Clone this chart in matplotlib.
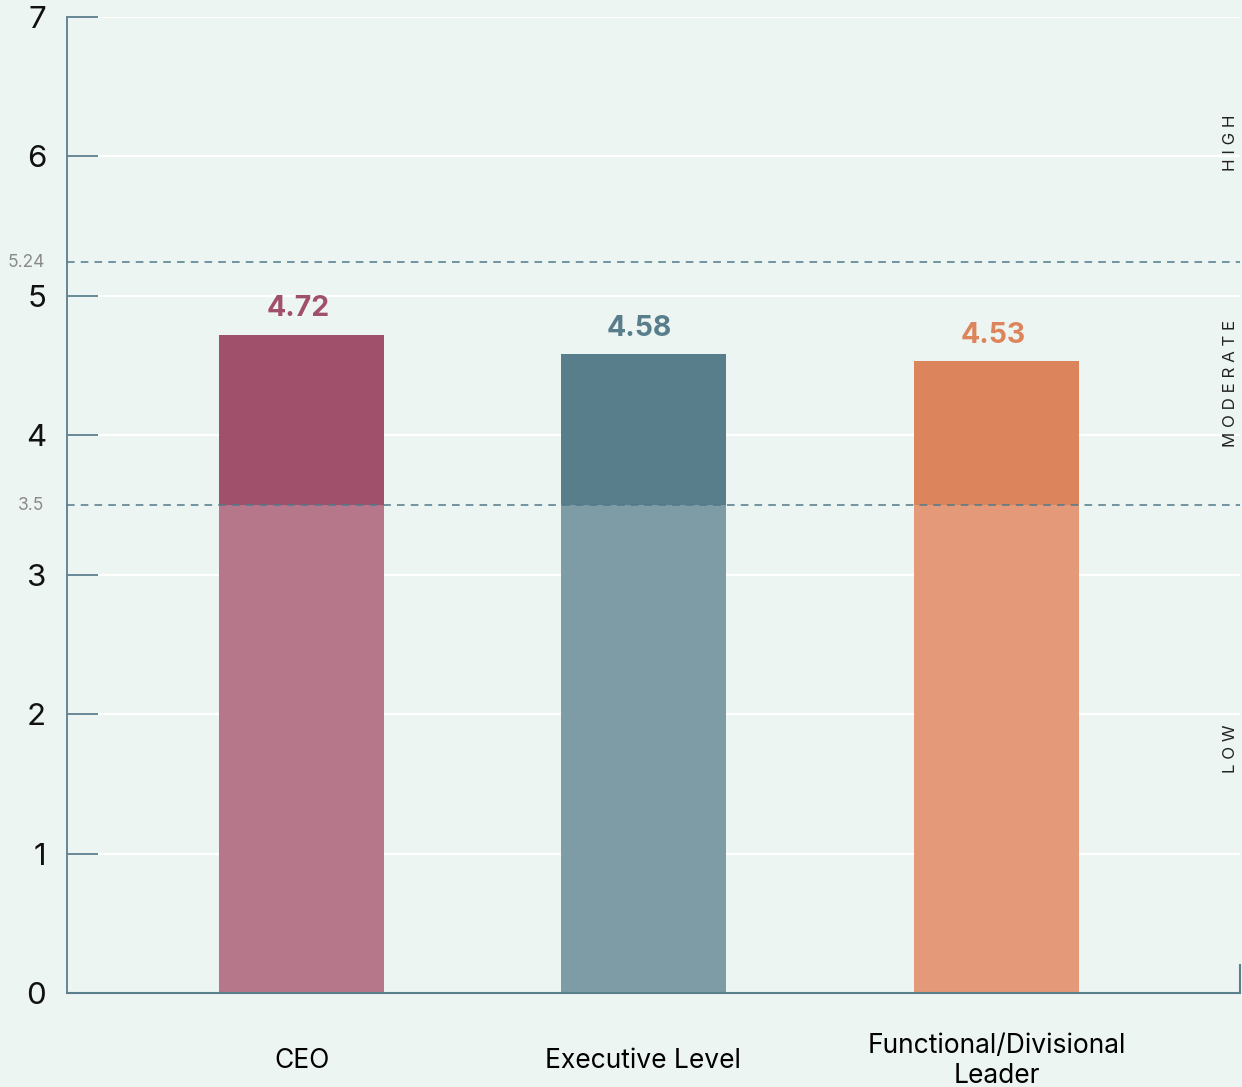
import numpy as np
import matplotlib.pyplot as plt
import matplotlib.transforms as mtransforms

plt.rcParams['font.family'] = ['Inter', 'DejaVu Sans']

categories = ["CEO", "Executive Level", "Functional/Divisional\nLeader"]
scores = [4.72, 4.58, 4.53]
dark_colors = ["#A0506A", "#587D8B", "#DC845B"]
light_colors = ["#B7778B", "#7E9CA5", "#E49A78"]
low_cut = 3.5
high_cut = 5.24
bands = ["H I G H", "M O D E R A T E", "L O W"]
band_y = [6.1, 4.37, 1.75]

bg = "#EDF5F2"
axis_col = "#5B7F8C"

fig = plt.figure(figsize=(12.42, 10.87), dpi=100, facecolor=bg)
ax = fig.add_axes([67 / 1242, 1 - 993 / 1087, 1173 / 1242, 976 / 1087])
ax.set_facecolor(bg)

x = np.array([0, 0.982, 2])
w = 0.475
for i, v in enumerate(scores):
    ax.bar(x[i], low_cut, width=w, color=light_colors[i], zorder=2)
    ax.bar(x[i], v - low_cut, bottom=low_cut, width=w, color=dark_colors[i], zorder=2)
    ax.text(x[i] - 0.01, v + 0.09, f"{v:.2f}", ha="center", va="bottom",
            fontsize=20.5, fontweight="bold", color=dark_colors[i], zorder=4)

ax.set_xlim(-0.676, 2.70)
ax.set_ylim(0, 7)

# white gridlines
for yv in range(1, 8):
    ax.axhline(yv, color="white", lw=1.6, zorder=1)

# threshold lines
trans = mtransforms.blended_transform_factory(ax.transAxes, ax.transData)
for yv in [high_cut, low_cut]:
    ax.axhline(yv, color="#4F7A8A", lw=1.1, ls=(0, (5, 4)), zorder=3)
    ax.text(-0.019, yv, f"{yv:g}", transform=trans, ha="right", va="center",
            fontsize=12.5, color="#8A8A8A")

# band labels
for lab, yv in zip(bands, band_y):
    ax.text(0.9915, yv, lab, transform=trans, rotation=90, ha="center", va="center",
            fontsize=12.2, color="#222222")

ax.set_yticks(range(0, 8))
ax.tick_params(axis="y", direction="in", length=22, width=1.3, color=axis_col,
               labelsize=22.5, pad=15)
for t in ax.get_yticklabels():
    t.set_color("#111111")

ax.set_xticks(x)
ax.set_xticklabels(categories, fontsize=19, va="center", linespacing=1.2)
ax.tick_params(axis="x", length=0, pad=49)

ax.spines["top"].set_visible(False)
ax.spines["right"].set_visible(False)
ax.spines["left"].set_color(axis_col)
ax.spines["left"].set_linewidth(1.3)
ax.spines["bottom"].set_color(axis_col)
ax.spines["bottom"].set_linewidth(1.5)
ax.plot([1, 1], [0, 0.2], transform=trans, color=axis_col, lw=1.5, clip_on=False)

fig.savefig("out.png", dpi=100, facecolor=bg)
